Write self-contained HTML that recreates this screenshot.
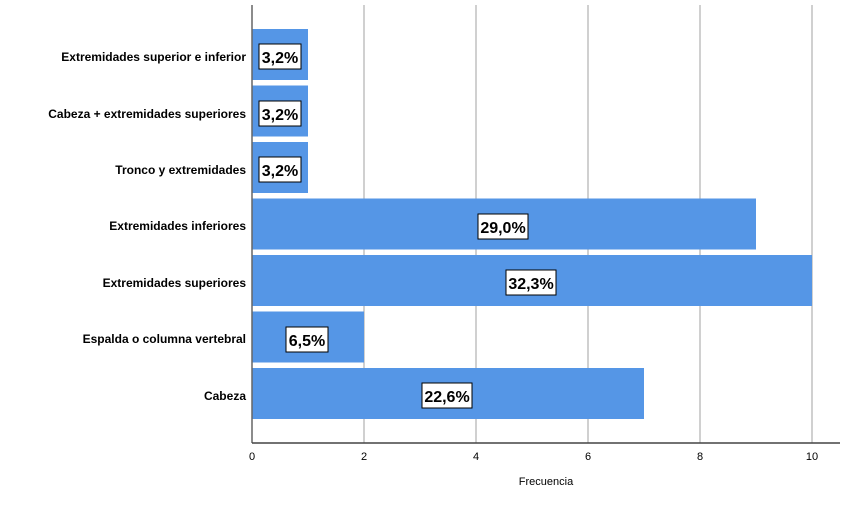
<!DOCTYPE html>
<html><head><style>body{margin:0;background:#fff}</style></head><body>
<svg width="851" height="501" xmlns="http://www.w3.org/2000/svg" font-family="Liberation Sans, sans-serif">
<rect width="851" height="501" fill="#fff"/>
<g stroke="#d0d0d0" stroke-width="2">
<line x1="364" y1="5" x2="364" y2="443"/><line x1="476" y1="5" x2="476" y2="443"/><line x1="588" y1="5" x2="588" y2="443"/><line x1="700" y1="5" x2="700" y2="443"/><line x1="812" y1="5" x2="812" y2="443"/>
</g>
<g fill="#5596e6">
<rect x="252" y="29" width="56" height="51"/>
<rect x="252" y="85.5" width="56" height="51"/>
<rect x="252" y="142" width="56" height="51"/>
<rect x="252" y="198.5" width="504" height="51"/>
<rect x="252" y="255" width="560" height="51"/>
<rect x="252" y="311.5" width="112" height="51"/>
<rect x="252" y="368" width="392" height="51"/>
</g>
<line x1="252" y1="5" x2="252" y2="443" stroke="#666" stroke-width="1.5"/>
<line x1="252" y1="443" x2="840" y2="443" stroke="#444" stroke-width="1.5"/>
<g font-size="12" font-weight="bold" text-anchor="end" fill="#000">
<text x="246" y="61">Extremidades superior e inferior</text>
<text x="246" y="118">Cabeza + extremidades superiores</text>
<text x="246" y="174">Tronco y extremidades</text>
<text x="246" y="230">Extremidades inferiores</text>
<text x="246" y="287">Extremidades superiores</text>
<text x="246" y="343">Espalda o columna vertebral</text>
<text x="246" y="400">Cabeza</text>
</g>
<g font-size="16" font-weight="bold" text-anchor="middle">
<rect x="259" y="44" width="42" height="25" fill="#fff" stroke="#000"/><text x="280" y="63">3,2%</text>
<rect x="259" y="101" width="42" height="25" fill="#fff" stroke="#000"/><text x="280" y="120">3,2%</text>
<rect x="259" y="157" width="42" height="25" fill="#fff" stroke="#000"/><text x="280" y="176">3,2%</text>
<rect x="478" y="214" width="50" height="25" fill="#fff" stroke="#000"/><text x="503" y="233">29,0%</text>
<rect x="506" y="270" width="50" height="25" fill="#fff" stroke="#000"/><text x="531" y="289">32,3%</text>
<rect x="286" y="327" width="42" height="25" fill="#fff" stroke="#000"/><text x="307" y="346">6,5%</text>
<rect x="422" y="383" width="50" height="25" fill="#fff" stroke="#000"/><text x="447" y="402">22,6%</text>
</g>
<g font-size="11" text-anchor="middle" fill="#000">
<text x="252" y="460">0</text><text x="364" y="460">2</text><text x="476" y="460">4</text><text x="588" y="460">6</text><text x="700" y="460">8</text><text x="812" y="460">10</text>
<text x="546" y="485">Frecuencia</text>
</g>
</svg>
</body></html>
